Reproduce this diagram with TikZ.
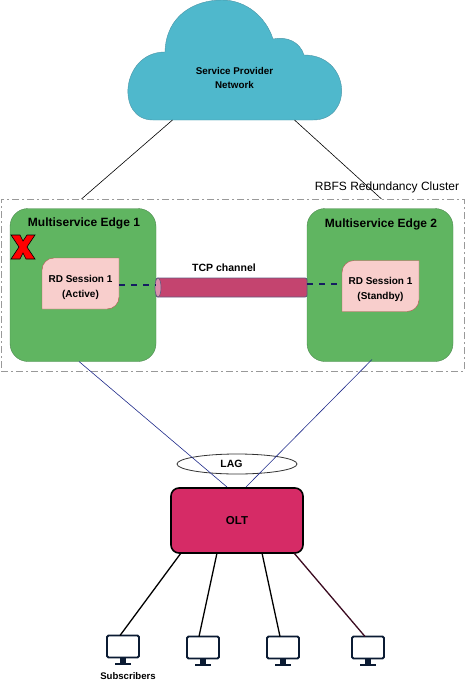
\documentclass[tikz,border=0pt]{standalone}
\usepackage{fontspec}
\setmainfont{Liberation Sans}
\usetikzlibrary{positioning,shapes.geometric,calc}
\definecolor{edgegreen}{HTML}{60B561}
\definecolor{edgeline}{HTML}{4E8A50}
\definecolor{sessfill}{HTML}{F8CECC}
\definecolor{sessline}{HTML}{B85450}
\definecolor{cloudfill}{HTML}{4FB8CC}
\definecolor{cloudline}{HTML}{4A94A6}
\definecolor{pipefill}{HTML}{C4446F}
\definecolor{pipeend}{HTML}{DB8FAC}
\definecolor{pipeline}{HTML}{64597F}
\definecolor{oltfill}{HTML}{D62B66}
\definecolor{linkblue}{HTML}{1F2A8A}
\definecolor{linkdark}{HTML}{3A0A20}
\definecolor{screenline}{HTML}{0B1B33}
\newcommand{\rdcorners}[1]{\draw[sessline,fill=sessfill] ($(#1.north west)+(12,0)$) -- (#1.north east) -- ($(#1.south east)+(0,-12)$) to[out=-90,in=0] ($(#1.south east)+(-12,0)$) -- (#1.south west) -- ($(#1.north west)+(0,12)$) to[out=90,in=180] ($(#1.north west)+(12,0)$);}
\begin{document}
\begin{tikzpicture}[x=1pt,y=-1pt,
  box/.style={inner sep=0pt,outer sep=0pt},
  edge/.style={box,draw=edgeline,fill=edgegreen,rounded corners=18pt,minimum width=146pt,minimum height=153pt},
  sess/.style={box,minimum width=77pt,minimum height=51pt,align=center,font=\bfseries\fontsize{10}{15}\selectfont},
  head/.style={font=\bfseries\fontsize{12}{14}\selectfont},
  link/.style={linkblue,line width=.6pt},
  sub/.style={line width=1.3pt},
  tcp/.style={line width=1.4pt,dash pattern=on 6pt off 6pt,draw=linkblue!70!black},
  screen/.style={box,draw=screenline,fill=white,line width=1.8pt,rounded corners=1.5pt,minimum width=32pt,minimum height=22pt}]
  \useasboundingbox (0,0) rectangle (474,685);

  \node[box,minimum width=463pt,minimum height=172pt,draw=black!40,line width=.8pt,dash pattern=on 7pt off 3pt on 2pt off 3pt] (cluster) at (232.5,285) {};
  \node[anchor=base,font=\fontsize{12}{14}\selectfont] at (387,190) {RBFS Redundancy Cluster};

  \node[box,minimum width=213pt,minimum height=120pt] (cloud) at (234.5,60) {};
  \draw[cloudline,fill=cloudfill] (153,120) .. controls (115,120) and (121,52) .. (165,52)
    .. controls (166,15) and (195,0) .. (222,0)
    .. controls (246,0) and (266,17) .. (273,39)
    .. controls (287,36) and (300,42) .. (304,55)
    .. controls (351,55) and (354,120) .. (313,120) -- cycle;
  \node[box,align=center,font=\bfseries\fontsize{9.8}{14}\selectfont] (sptext) at (234.5,78) {Service Provider\\Network};

  \node[edge] (edgea) at (83,285) {};
  \node[edge] (edgeb) at (380,285) {};
  \node[head,anchor=base] at (84,226) {Multiservice Edge 1};
  \node[head,anchor=base] at (381,227) {Multiservice Edge 2};

  \node[sess] (sa) at (80.5,283.5) {};
  \node[sess] (sb) at (380.5,286) {};
  \rdcorners{sa}
  \rdcorners{sb}
  \node[sess] at (80.5,287) {RD Session 1\\(Active)};
  \node[sess] at (380.5,289.5) {RD Session 1\\(Standby)};

  \draw[black,fill=red,line width=.6pt] (11,235) -- (20,235) -- (23,241) -- (27,235) -- (35,235) -- (27,247) -- (35,259) -- (26,259) -- (23,253) -- (20,259) -- (11,259) -- (19,247) -- cycle;

  \node[box,minimum width=151pt,minimum height=19pt,draw=pipeline,fill=pipefill,line width=.9pt,rounded corners=2pt] (pipe) at (231.5,287.5) {};
  \node[box,ellipse,minimum width=6pt,minimum height=19pt,draw=pipeline,fill=pipeend,line width=.6pt] (pipeleft) at (158,287.5) {};
  \node[anchor=base,font=\bfseries\fontsize{10.5}{12}\selectfont] at (224,271) {TCP channel};
  \draw[tcp] (sa.east |- 0,285) -- (edgea.east |- 0,285);
  \draw[tcp] (edgeb.west |- 0,284) -- (sb.west |- 0,284);

  \node[box,minimum width=132pt,minimum height=65pt,draw,fill=oltfill,line width=1.6pt,rounded corners=8pt,font=\bfseries\fontsize{11.5}{13}\selectfont] (olt) at (237,520.5) {OLT};
  \node[box,ellipse,minimum width=120pt,minimum height=20pt,draw=black!80,line width=.8pt] (lag) at (237,464) {};
  \node[font=\bfseries\fontsize{10.5}{12}\selectfont] at (231.5,464) {LAG};

  \draw[line width=.6pt] ([xshift=-62pt]cloud.south) -- ([xshift=-151pt]cluster.north);
  \draw[line width=.6pt] ([xshift=60pt]cloud.south) -- ([xshift=149pt]cluster.north);
  \draw[link] ([xshift=-4pt]edgea.south) -- ([xshift=-10pt,yshift=1pt]olt.north);
  \draw[link] ([xshift=-8pt,yshift=2pt]edgeb.south) -- ([xshift=9pt,yshift=1pt]olt.north);

  \foreach \name/\xpos/\ypos in {sc1/123/646.5,sc2/203/647.5,sc3/283/647.5,sc4/368/647.5} {
    \node[screen] (\name) at (\xpos,\ypos) {};
    \fill[screenline] ([xshift=-3pt]\name.south) rectangle ([xshift=3pt,yshift=-5pt]\name.south);
    \draw[screenline,line width=2pt] ([xshift=-8pt,yshift=-6pt]\name.south) -- ([xshift=8pt,yshift=-6pt]\name.south);
  }
  \node[anchor=base,font=\bfseries\fontsize{9.6}{11}\selectfont] at (128,679) {Subscribers};

  \draw[sub] ([xshift=-56pt]olt.south) -- ([xshift=-3pt]sc1.north);
  \draw[sub] ([xshift=-20pt]olt.south) -- ([xshift=-4pt]sc2.north);
  \draw[sub] ([xshift=25pt]olt.south) -- ([xshift=-3pt]sc3.north);
  \draw[sub,linkdark] ([xshift=57pt]olt.south) -- ([xshift=-3pt]sc4.north);
\end{tikzpicture}
\end{document}
